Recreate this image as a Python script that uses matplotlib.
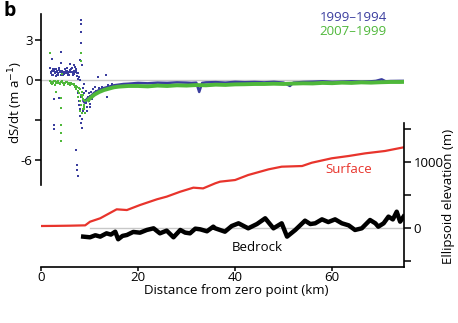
import numpy as np
import matplotlib
matplotlib.use("Agg")
import matplotlib.pyplot as plt

plt.rcParams["font.family"] = ["Open Sans", "DejaVu Sans"]

# --- dS/dt scatter, noisy part near the terminus (km, m/a) ---
blue_pts_km = [1.9, 2.1, 2.3, 2.5, 2.7, 2.9, 3.1, 3.3, 3.5, 3.7, 3.9, 4.1, 4.3, 4.5, 4.7, 4.9,
               5.1, 5.3, 5.5, 5.7, 5.9, 6.1, 6.3, 6.5, 6.7, 6.9, 7.1, 7.3, 7.5, 7.7, 7.9, 8.1,
               2.0, 2.4, 2.8, 3.2, 3.6, 4.0, 4.4, 4.8, 5.2, 5.6, 6.0, 6.4, 6.8, 7.2, 7.6,
               2.2, 2.6, 3.0, 3.4, 3.8, 4.6, 5.0, 5.4, 5.8, 6.2, 6.6, 7.0, 7.4,
               2.6, 2.7, 2.7, 2.3, 3.7, 4.2, 4.2, 7.3, 7.4, 7.5, 7.6, 8.2, 8.2, 8.3, 8.2, 8.1, 8.4,
               7.6, 7.8, 8.0, 8.1, 8.3, 8.5, 8.4, 8.6, 7.9, 8.2, 8.8, 9.0, 9.2, 9.3, 9.5, 9.6,
               9.8, 10.0, 10.2, 10.4, 10.6, 10.8, 11.0, 11.2, 11.4, 11.7, 12.0, 12.3, 12.6,
               13.0, 13.4, 13.5, 13.8, 14.2, 14.6, 15.0, 15.5, 9.4, 9.9, 10.1, 8.7, 8.9]
blue_pts_rate = [0.9, 0.5, 0.7, 0.4, 0.8, 0.6, 0.3, 0.7, 0.5, 0.9, 0.6, 0.4, 0.7, 0.5, 0.6, 0.8,
                 0.5, 0.7, 0.4, 0.6, 1.2, 0.6, 0.9, 0.5, 0.7, 1.1, 0.6, 0.8, 0.3, 0.5, 0.2, 0.0,
                 0.6, 0.8, 0.5, 0.6, 0.4, 0.7, 0.55, 0.45, 0.65, 0.5, 0.75, 0.6, 0.45, 0.7, 0.1,
                 0.35, 0.65, 0.85, 0.4, 0.75, 0.35, 0.6, 0.9, 0.35, 0.8, 0.4, 0.95, 0.5,
                 -3.4, -3.7, -1.45, 1.6, -1.35, 2.1, 1.3, -5.25, -6.4, -6.75, -7.2, 4.5, 4.2, 3.6, 2.8, 1.5, 1.1,
                 -1.0, -1.6, -2.2, -2.7, -3.2, -3.6, -2.9, -2.3, -1.9, -1.3, -1.0, -1.5, -0.8, -1.7, -2.0, -1.3,
                 -1.0, -1.8, -1.2, -0.9, -1.4, -0.7, -1.0, -0.5, -0.8, 0.25, -0.6, -0.9, -0.5,
                 -0.7, 0.37, -1.25, -0.4, -0.6, -0.3, -0.5, -0.35, -2.3, -1.6, -2.0, -0.6, -0.3]

green_pts_km = [1.9, 2.2, 2.5, 2.8, 3.1, 3.4, 3.7, 4.0, 4.3, 4.6, 4.9, 5.2, 5.5, 5.8, 6.1, 6.4,
                2.0, 2.35, 2.65, 2.95, 3.25, 3.55, 3.85, 4.15, 4.45, 4.75, 5.05, 5.35, 5.65, 5.95, 6.25,
                6.7, 7.0, 7.3, 7.6, 7.9, 8.2, 8.5, 8.8, 9.1, 9.4, 6.9, 7.2, 7.5, 7.8, 8.1, 8.4, 8.7,
                7.7, 8.0, 8.3, 8.6, 8.9, 8.5, 8.7, 8.1,
                1.8, 4.1, 4.1, 4.2, 4.2, 4.2, 8.3, 8.3, 9.0, 8.8, 8.9, 4.4, 3.0]
green_pts_rate = [-0.1, -0.15, -0.2, -0.1, -0.25, -0.15, -0.2, -0.3, -0.1, -0.2, -0.25, -0.15, -0.3, -0.2, -0.25, -0.3,
                  -0.2, -0.3, -0.1, -0.35, -0.2, -0.1, -0.3, -0.15, -0.25, -0.35, -0.2, -0.15, -0.25, -0.35, -0.2,
                  -0.4, -0.55, -0.7, -0.8, -1.0, -1.1, -1.3, -1.5, -1.6, -1.5, -0.3, -0.45, -0.5, -0.6, -0.7, -0.9, -1.1,
                  -1.3, -1.6, -1.9, -2.2, -1.9, -2.5, -1.4, -2.3,
                  2.0, -3.4, -4.0, -4.6, -1.35, -2.1, 2.0, 1.4, -2.5, -2.2, -2.0, 0.45, -0.9]

# --- dS/dt dense band further up-glacier ---
blue_km = [8.6, 9.0, 9.5, 10, 11, 12, 13, 14, 15, 16, 17, 18, 19, 20, 22, 24, 26, 28, 30, 31, 32,
           32.6, 33.2, 34, 36, 38, 40, 42, 44, 46, 48, 50, 51.3, 52, 54, 56, 58, 60, 62, 64, 66,
           68, 69, 70.2, 71, 72, 74, 75]
blue_rate = [-1.5, -1.7, -1.4, -1.3, -0.95, -0.75, -0.6, -0.5, -0.4, -0.35, -0.3, -0.28, -0.25, -0.22,
             -0.25, -0.2, -0.22, -0.18, -0.2, -0.22, -0.2, -0.9, -0.22, -0.18, -0.16, -0.2, -0.14,
             -0.17, -0.15, -0.18, -0.14, -0.2, -0.45, -0.2, -0.15, -0.13, -0.1, -0.14, -0.12, -0.1,
             -0.12, -0.1, -0.07, 0.05, -0.1, -0.08, -0.07, -0.07]
green_km = [9.5, 10, 11, 12, 13, 14, 15, 16, 18, 20, 22, 24, 26, 28, 30, 32, 34, 36, 38, 40, 42, 44,
            46, 48, 50, 52, 54, 56, 58, 60, 62, 64, 66, 68, 70, 72, 74, 75]
green_rate = [-1.6, -1.4, -1.1, -0.9, -0.75, -0.65, -0.55, -0.5, -0.45, -0.45, -0.48, -0.42, -0.45,
              -0.4, -0.42, -0.38, -0.4, -0.35, -0.37, -0.33, -0.32, -0.3, -0.3, -0.28, -0.3, -0.27,
              -0.25, -0.26, -0.22, -0.24, -0.2, -0.22, -0.18, -0.2, -0.17, -0.15, -0.15, -0.14]

# --- elevation profiles (km, m) ---
surf_km = [0, 3, 6, 9.1, 10.1, 12.2, 15.6, 17.7, 20.4, 23.9, 25.9, 28.7, 31.4, 33.4, 35.9, 36.9,
           40.0, 42.7, 46.9, 49.6, 53.8, 55.8, 59.9, 63.4, 66.8, 70.9, 74.7]
surf_elev = [30, 32, 35, 40, 95, 147, 283, 272, 348, 435, 475, 550, 611, 600, 677, 702,
             727, 803, 889, 929, 939, 989, 1056, 1091, 1131, 1167, 1222]
bed_km = [8.7, 10.1, 11.2, 12.2, 13.5, 14.4, 15.3, 15.9, 16.8, 17.7, 19.0, 20.4, 21.8, 23.2, 24.5,
          25.9, 27.3, 28.7, 29.7, 30.7, 31.8, 32.8, 34.2, 35.5, 35.9, 37.9, 39.3, 40.7, 42.7, 44.5,
          46.2, 47.9, 49.6, 50.7, 52.4, 54.4, 55.5, 56.5, 57.9, 59.2, 60.6, 62.0, 63.4, 64.7, 66.1,
          67.8, 68.9, 69.5, 70.6, 71.6, 72.5, 73.3, 74.0, 74.7]
bed_elev = [-131, -141, -110, -131, -81, -100, -56, -171, -120, -106, -60, -71, -30, -5, -81,
            -40, -141, -30, -70, -81, -10, -20, -50, 20, -5, -56, 30, 71, -5, 60,
            147, -5, 71, -131, -30, 111, 60, 71, 131, 90, 131, 71, 40, -30, -5,
            121, 71, 20, 71, 172, 130, 247, 96, 172]

BLUE, GREEN, RED = "#3a3d9e", "#4fb83a", "#e8342c"
FS = 9.5

fig = plt.figure(figsize=(4.58, 3.23), dpi=100, facecolor="white")
ax = fig.add_axes([0.0895, 0.4272, 0.7926, 0.5294])
ab = fig.add_axes([0.0895, 0.1734, 0.7926, 0.4458])
for a in (ax, ab):
    a.patch.set_alpha(0)

ax.axhline(0, color="#c8c8c8", lw=1.0, zorder=0)
ax.plot(blue_km, blue_rate, color=BLUE, lw=1.8, solid_capstyle="butt", zorder=2)
ax.plot(green_km, green_rate, color=GREEN, lw=2.8, solid_capstyle="butt", zorder=3)
ax.scatter(blue_pts_km, blue_pts_rate, s=3.5, marker="s", color=BLUE, linewidths=0, zorder=2)
ax.scatter(green_pts_km, green_pts_rate, s=3.5, marker="s", color=GREEN, linewidths=0, zorder=3)
ax.set_xlim(0, 74.8)
ax.set_ylim(-7.88, 4.95)
for s in ("top", "right", "bottom"):
    ax.spines[s].set_visible(False)
ax.spines["left"].set_linewidth(1.2)
ax.set_xticks([])
ax.set_yticks([3, 0, -3, -6])
ax.set_yticklabels(["3", "0", "", "-6"], fontsize=FS)
ax.tick_params(axis="y", length=4, width=1.1, pad=2)
ax.set_ylabel("dS/dt (m a$^{-1}$)", fontsize=FS)
ax.yaxis.set_label_coords(-0.044, 0.485)
ax.text(0.86, 0.982, "1999\u20131994", transform=ax.transAxes, color=BLUE, fontsize=FS, ha="center", va="center")
ax.text(0.86, 0.895, "2007\u20131999", transform=ax.transAxes, color=GREEN, fontsize=FS, ha="center", va="center")

ab.plot([10.1, 74.8], [0, 0], color="#c8c8c8", lw=1.0, zorder=0)
ab.plot(surf_km, surf_elev, color=RED, lw=1.6, zorder=2)
ab.plot(bed_km, bed_elev, color="black", lw=3.2, zorder=2)
ab.set_xlim(0, 74.8)
ab.set_ylim(-591, 1591)
for s in ("top", "left"):
    ab.spines[s].set_visible(False)
ab.spines["right"].set_linewidth(1.2)
ab.spines["bottom"].set_linewidth(1.2)
ab.yaxis.tick_right()
ab.yaxis.set_label_position("right")
ab.set_yticks([1500, 1000, 500, 0, -500])
ab.set_yticklabels(["", "1000", "", "0", ""], fontsize=FS)
ab.set_xticks([0, 20, 40, 60])
ab.set_xticklabels(["0", "20", "40", "60"], fontsize=FS)
ab.tick_params(axis="y", length=5, width=1.1, pad=2)
ab.tick_params(axis="x", length=3, width=1.1, pad=0)
ab.set_ylabel("Ellipsoid elevation (m)", fontsize=FS)
ab.yaxis.set_label_coords(1.105, 0.493)
ab.set_xlabel("Distance from zero point (km)", fontsize=FS)
ab.xaxis.set_label_coords(0.537, -0.115)
ab.text(63.5, 879, "Surface", color=RED, fontsize=FS, ha="center", va="center")
ab.text(44.5, -303, "Bedrock", color="black", fontsize=FS, ha="center", va="center")

fig.text(0.022, 0.965, "b", fontsize=14, fontweight="bold", ha="center", va="center")
fig.savefig("out.png", dpi=100, facecolor="white")
